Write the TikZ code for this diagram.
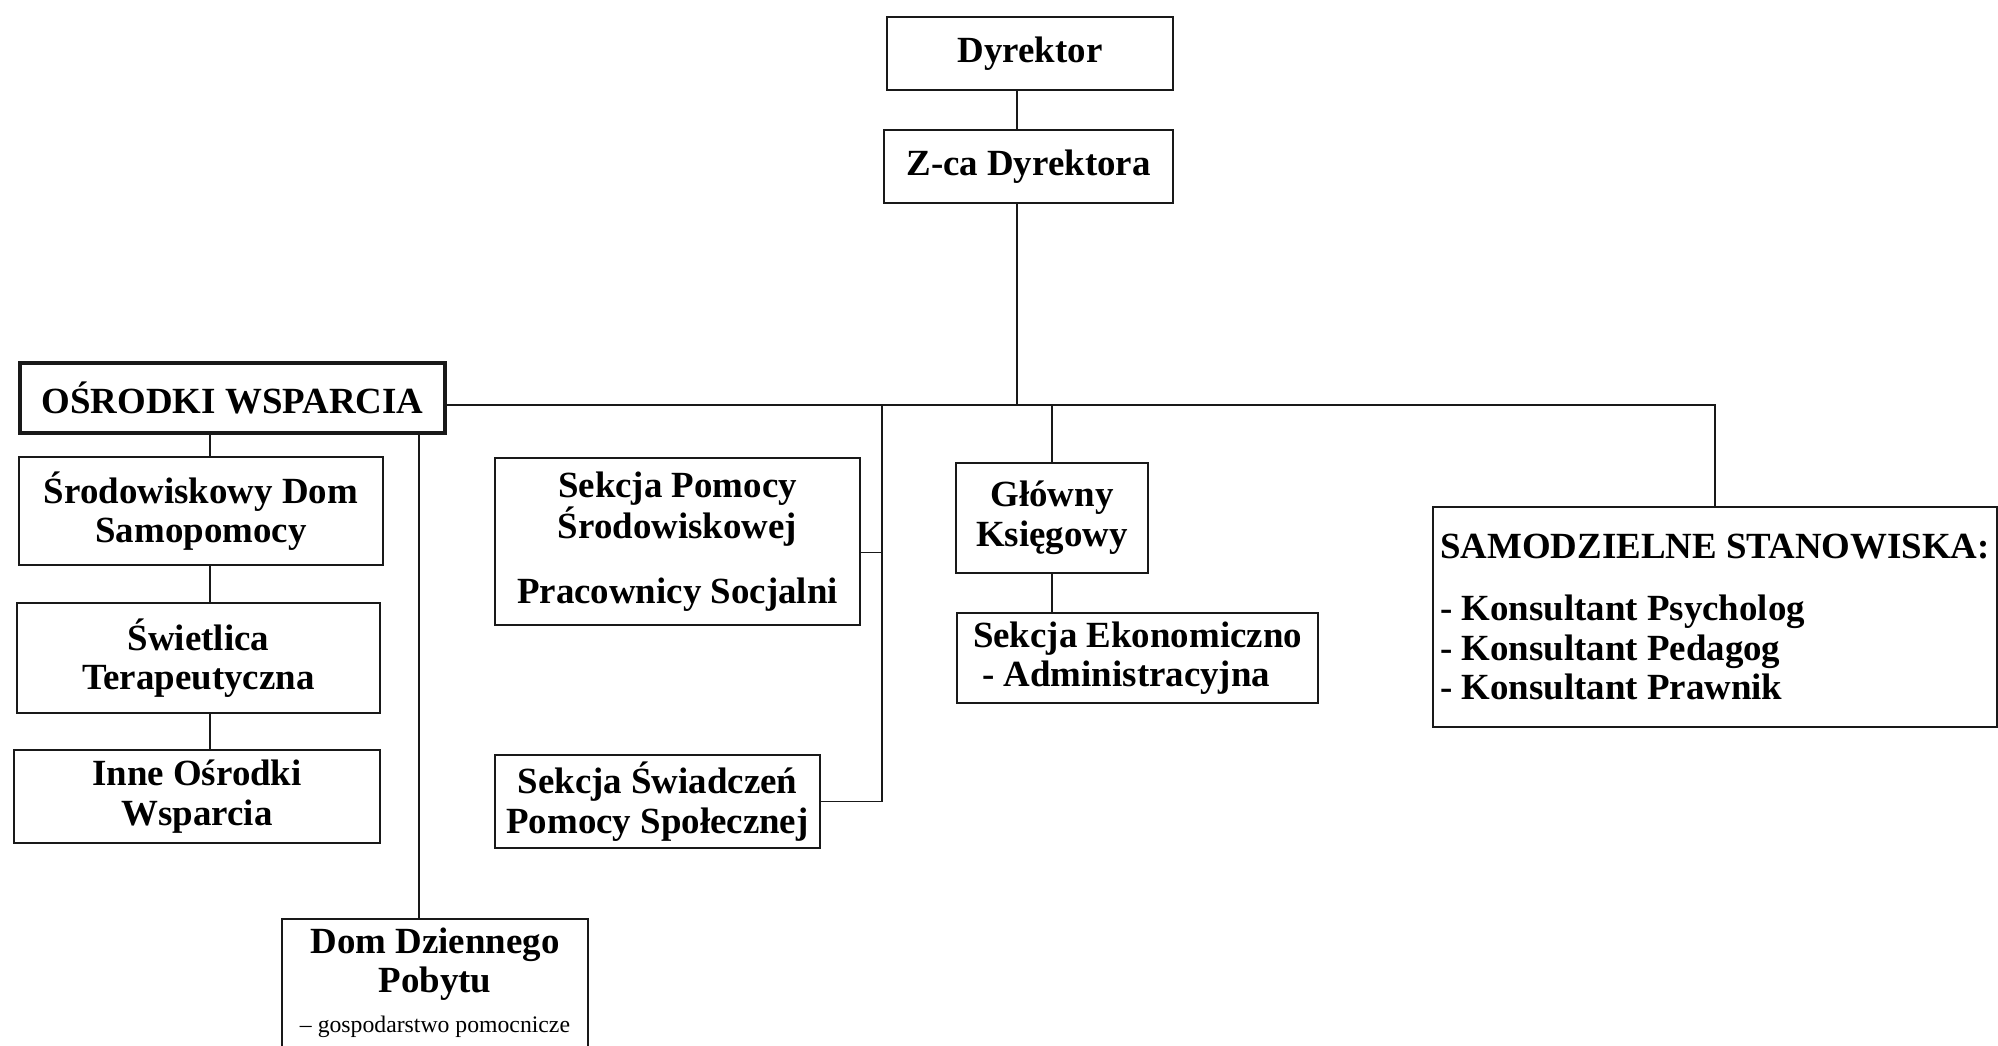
\documentclass[tikz,border=0pt]{standalone}
\usepackage{fontspec}
\setmainfont{Liberation Serif}
\usetikzlibrary{shapes,arrows,positioning,calc}
\definecolor{inkgray}{RGB}{25,25,25}

\begin{document}
\begin{tikzpicture}[x=0.02cm, y=-0.02cm,
    box/.style={rectangle, draw=inkgray, line width=1pt, align=center, inner sep=2pt, font=\fontsize{21}{22.5}\selectfont\bfseries},
    link/.style={draw=inkgray, line width=1pt}]

    \clip (0,0) rectangle (1998,1045);
    \fill[white] (0,0) rectangle (1998,1045);

    \node[box, minimum width=5.72cm, minimum height=1.46cm] (dyrektor) at (1030,53.5) {Dyrektor};
    \node[box, minimum width=5.78cm, minimum height=1.46cm] (zastepca) at (1028.5,166.5) {Z-ca Dyrektora};

    \node[box, line width=2.5pt, minimum width=8.5cm, minimum height=1.4cm] (osrodki) at (232.5,398) {OŚRODKI WSPARCIA};
    \node[box, minimum width=7.28cm, minimum height=2.16cm] (sdsamopomocy) at (201,511) {Środowiskowy Dom\\Samopomocy};
    \node[box, minimum width=7.26cm, minimum height=2.2cm] (swietlica) at (198.5,658) {Świetlica\\Terapeutyczna};
    \node[box, minimum width=7.32cm, minimum height=1.86cm] (inne) at (197,796.5) {Inne Ośrodki\\Wsparcia};
    \node[box, minimum width=6.12cm, anchor=north, inner ysep=5pt, text depth=2cm] (ddpobytu) at (435,918) {Dom Dziennego\\Pobytu\\{\fontsize{13.5}{14}\selectfont\mdseries -- gospodarstwo pomocnicze}};

    \node[box, minimum width=7.3cm, minimum height=3.34cm] (pomocsrod) at (677.5,541.5) {Sekcja Pomocy\\Środowiskowej\\[14pt]Pracownicy Socjalni};
    \node[box, minimum width=6.5cm, minimum height=1.86cm] (swiadczenia) at (657.5,801.5) {Sekcja Świadczeń\\Pomocy Społecznej};

    \node[box, minimum width=3.84cm, minimum height=2.2cm] (ksiegowy) at (1052,518) {Główny\\Księgowy};
    \node[box, minimum width=7.22cm, minimum height=1.8cm, align=left] (ekonomiczna) at (1137.5,658) {Sekcja Ekonomiczno\\\ - Administracyjna};

    \node[box, minimum width=11.28cm, minimum height=4.4cm, align=left] (samodzielne) at (1715,617) {SAMODZIELNE STANOWISKA:\\[13pt]- Konsultant Psycholog\\- Konsultant Pedagog\\- Konsultant Prawnik};

    \coordinate (trunk) at (1017,405);
    \coordinate (branch) at (882,405);
    \coordinate (chain) at (210,0);
    \coordinate (daily) at (419,0);
    \coordinate (stub) at ([yshift=-2.2mm]pomocsrod.east);

    \draw[link] (trunk |- dyrektor.south) -- (trunk |- zastepca.north);
    \draw[link] (trunk |- zastepca.south) -- (trunk);
    \draw[link] (osrodki.east |- trunk) -| (samodzielne.north);
    \draw[link] (ksiegowy.north |- trunk) -- (ksiegowy.north);
    \draw[link] (ksiegowy.south) -- (ksiegowy.south |- ekonomiczna.north);
    \draw[link] (stub) -- (stub -| branch);
    \draw[link] (branch) |- (swiadczenia.east);
    \draw[link] (chain |- osrodki.south) -- (chain |- sdsamopomocy.north);
    \draw[link] (chain |- sdsamopomocy.south) -- (chain |- swietlica.north);
    \draw[link] (chain |- swietlica.south) -- (chain |- inne.north);
    \draw[link] (daily |- osrodki.south) -- (daily |- ddpobytu.north);
\end{tikzpicture}
\end{document}
